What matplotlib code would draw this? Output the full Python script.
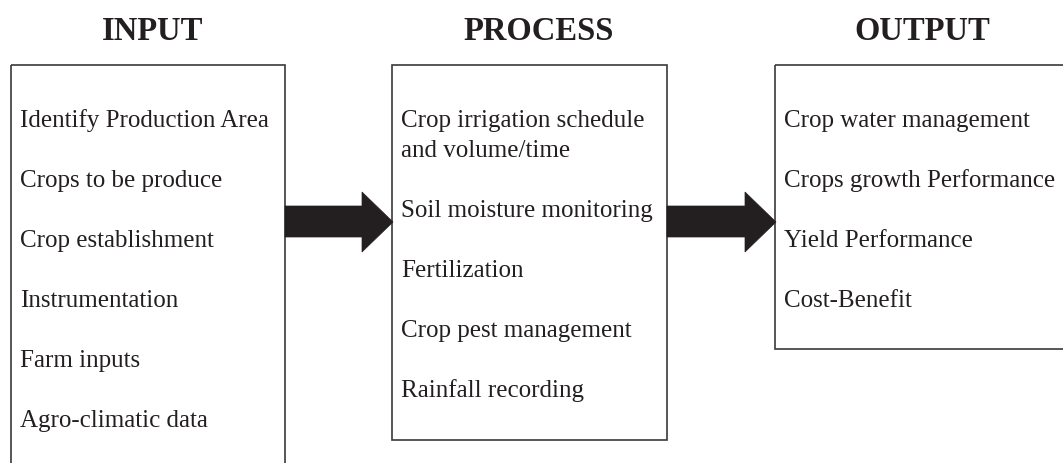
import matplotlib.pyplot as plt
from matplotlib.patches import Rectangle, Polygon

plt.rcParams['font.family'] = ['Liberation Serif', 'DejaVu Serif']

headers = ["INPUT", "PROCESS", "OUTPUT"]
input_items = ["Identify Production Area", "Crops to be produce", "Crop establishment",
               "Instrumentation", "Farm inputs", "Agro-climatic data"]
process_items = ["Crop irrigation schedule\nand volume/time", "Soil moisture monitoring",
                 "Fertilization", "Crop pest management", "Rainfall recording"]
output_items = ["Crop water management", "Crops growth Performance",
                "Yield Performance", "Cost-Benefit"]

W, H = 1063, 464
fig = plt.figure(figsize=(W / 100, H / 100), dpi=100)
ax = fig.add_axes([0, 0, 1, 1])
ax.set_xlim(0, W)
ax.set_ylim(H, 0)
ax.axis('off')

ink = '#231f20'
edge = '#3a3a3a'

# (left, top, right, bottom) of each box in pixels, title x
boxes = [(11, 66, 285, 480), (392, 66, 667, 441), (775, 66, 1080, 350)]
title_x = [153, 539, 922]
columns = [input_items, process_items, output_items]

for (l, t, r, b), tx, head, items in zip(boxes, title_x, headers, columns):
    ax.add_patch(Rectangle((l, t), r - l, b - t, fill=False, edgecolor=edge, lw=1.2))
    ax.text(tx, 31, head, ha='center', va='center',
            fontsize=23.5, fontweight='bold', color=ink)
    y = 121
    for item in items:
        for line in item.split("\n"):
            ax.text(l + 9, y, line, ha='left', va='center', fontsize=18, color=ink)
            y += 30
        y += 30

# arrows between boxes
for x0, x1 in [(285, 393), (667, 776)]:
    hb = x1 - 31
    pts = [(x0, 207), (hb, 207), (hb, 193), (x1, 223), (hb, 253), (hb, 238), (x0, 238)]
    ax.add_patch(Polygon(pts, closed=True, facecolor=ink, edgecolor=ink, lw=0.5))

fig.savefig("out.png", dpi=100)
